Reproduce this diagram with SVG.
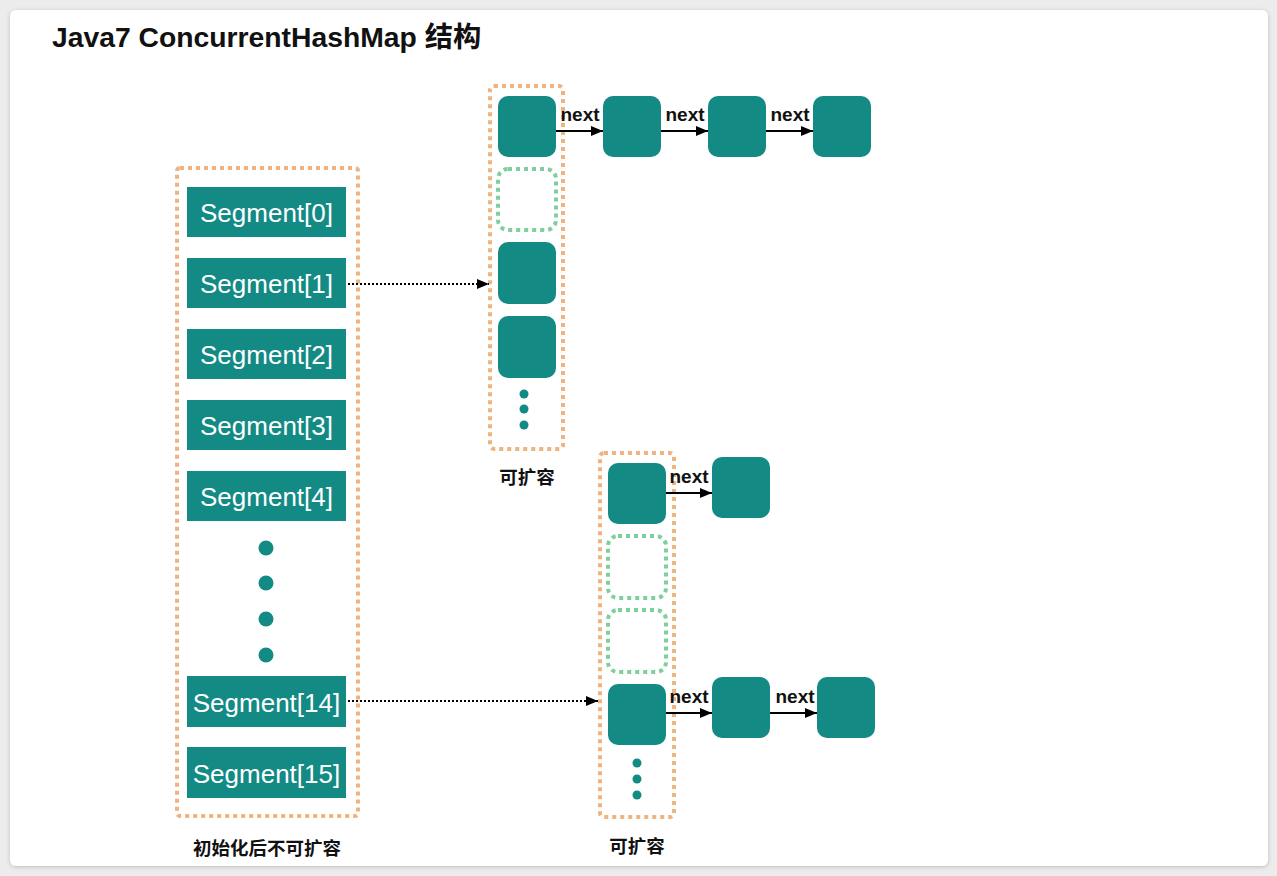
<svg xmlns="http://www.w3.org/2000/svg" width="1277" height="876" viewBox="0 0 1277 876">
<style>
.seg{fill:#138a84}
.segt{fill:#ffffff;font-family:"Liberation Sans",Arial,sans-serif;font-size:26px;text-anchor:middle}
.node{fill:#138a84}
.orange{fill:none;stroke:#f0b27e;stroke-width:4;stroke-dasharray:4 4}
.green{fill:none;stroke:#7fcf9c;stroke-width:4;stroke-dasharray:4 4}
.dot{fill:#138a84}
.lbl{fill:#111;font-family:"Liberation Sans","Noto Sans CJK SC",sans-serif;font-size:18.5px;font-weight:bold;text-anchor:middle}
.nx{fill:#111;font-family:"Liberation Sans",Arial,sans-serif;font-size:19px;font-weight:bold;text-anchor:middle}
.arr{stroke:#000;stroke-width:2;fill:none;marker-end:url(#ah)}
.darr{stroke:#000;stroke-width:2;fill:none;stroke-dasharray:2 2;marker-end:url(#ah)}
</style>
<defs>
<marker id="ah" viewBox="0 0 12 10" refX="12" refY="5" markerWidth="12" markerHeight="10" markerUnits="userSpaceOnUse" orient="auto">
<path d="M0,0 L12,5 L0,10 z" fill="#000"/>
</marker>
<filter id="sh" x="-5%" y="-5%" width="110%" height="110%">
<feDropShadow dx="0" dy="1" stdDeviation="2" flood-color="#000" flood-opacity="0.2"/>
</filter>
</defs>
<rect x="0" y="0" width="1277" height="876" fill="#ececec"/>
<rect x="10" y="10" width="1258" height="856" rx="6" fill="#ffffff" filter="url(#sh)"/>
<text x="52" y="47" font-family="Liberation Sans,'Noto Sans CJK SC',sans-serif" font-size="28.3" font-weight="bold" fill="#111">Java7 ConcurrentHashMap 结构</text>

<g id="segments">
<rect class="orange" x="177" y="168" width="181" height="648" rx="3"/>
<g id="seg0"><rect class="seg" x="187" y="187" width="159" height="50"/><text class="segt" x="266.5" y="222">Segment[0]</text></g>
<g id="seg1"><rect class="seg" x="187" y="258" width="159" height="50"/><text class="segt" x="266.5" y="293">Segment[1]</text></g>
<g id="seg2"><rect class="seg" x="187" y="329" width="159" height="50"/><text class="segt" x="266.5" y="364">Segment[2]</text></g>
<g id="seg3"><rect class="seg" x="187" y="400" width="159" height="50"/><text class="segt" x="266.5" y="435">Segment[3]</text></g>
<g id="seg4"><rect class="seg" x="187" y="471" width="159" height="50"/><text class="segt" x="266.5" y="506">Segment[4]</text></g>
<circle class="dot" cx="266" cy="548" r="7.5"/>
<circle class="dot" cx="266" cy="583" r="7.5"/>
<circle class="dot" cx="266" cy="619" r="7.5"/>
<circle class="dot" cx="266" cy="655" r="7.5"/>
<g id="seg14"><rect class="seg" x="187" y="676" width="159" height="51"/><text class="segt" x="266.5" y="711.5">Segment[14]</text></g>
<g id="seg15"><rect class="seg" x="187" y="747" width="159" height="51"/><text class="segt" x="266.5" y="782.5">Segment[15]</text></g>
<text class="lbl" x="267" y="855">初始化后不可扩容</text>
</g>

<g id="table1">
<rect class="orange" x="490" y="86" width="73" height="363" rx="4"/>
<rect class="node" x="498" y="96" width="58" height="61" rx="10"/>
<rect class="green" x="498" y="169" width="58" height="61" rx="10"/>
<rect class="node" x="498" y="242" width="58" height="62" rx="10"/>
<rect class="node" x="498" y="316" width="58" height="62" rx="10"/>
<circle class="dot" cx="524" cy="394" r="4.5"/>
<circle class="dot" cx="524" cy="409" r="4.5"/>
<circle class="dot" cx="524" cy="425" r="4.5"/>
<text class="lbl" x="527" y="484">可扩容</text>
</g>
<g id="chain1">
<rect class="node" x="603" y="96" width="58" height="61" rx="10"/>
<rect class="node" x="708" y="96" width="58" height="61" rx="10"/>
<rect class="node" x="813" y="96" width="58" height="61" rx="10"/>
</g>

<g id="table2">
<rect class="orange" x="600" y="453" width="74" height="364" rx="4"/>
<rect class="node" x="608" y="463" width="58" height="61" rx="10"/>
<rect class="green" x="608" y="536" width="58" height="62" rx="10"/>
<rect class="green" x="608" y="610" width="58" height="62" rx="10"/>
<rect class="node" x="608" y="684" width="58" height="61" rx="10"/>
<circle class="dot" cx="637" cy="763" r="4.5"/>
<circle class="dot" cx="637" cy="779" r="4.5"/>
<circle class="dot" cx="637" cy="795" r="4.5"/>
<text class="lbl" x="637" y="853">可扩容</text>
</g>
<g id="chain2">
<rect class="node" x="712" y="457" width="58" height="61" rx="10"/>
</g>
<g id="chain3">
<rect class="node" x="712" y="677" width="58" height="61" rx="10"/>
<rect class="node" x="817" y="677" width="58" height="61" rx="10"/>
</g>

<g id="connectors">
<line class="darr" x1="348" y1="284" x2="489" y2="284"/>
<line class="darr" x1="348" y1="701" x2="598" y2="701"/>
<line class="arr" x1="556" y1="131" x2="603" y2="131"/>
<line class="arr" x1="661" y1="131" x2="708" y2="131"/>
<line class="arr" x1="766" y1="131" x2="813" y2="131"/>
<line class="arr" x1="666" y1="493" x2="712" y2="493"/>
<line class="arr" x1="666" y1="713" x2="712" y2="713"/>
<line class="arr" x1="770" y1="713" x2="817" y2="713"/>
<text class="nx" x="580" y="121">next</text>
<text class="nx" x="685" y="121">next</text>
<text class="nx" x="790" y="121">next</text>
<text class="nx" x="689" y="483">next</text>
<text class="nx" x="689" y="703">next</text>
<text class="nx" x="795" y="703">next</text>
</g>
</svg>
